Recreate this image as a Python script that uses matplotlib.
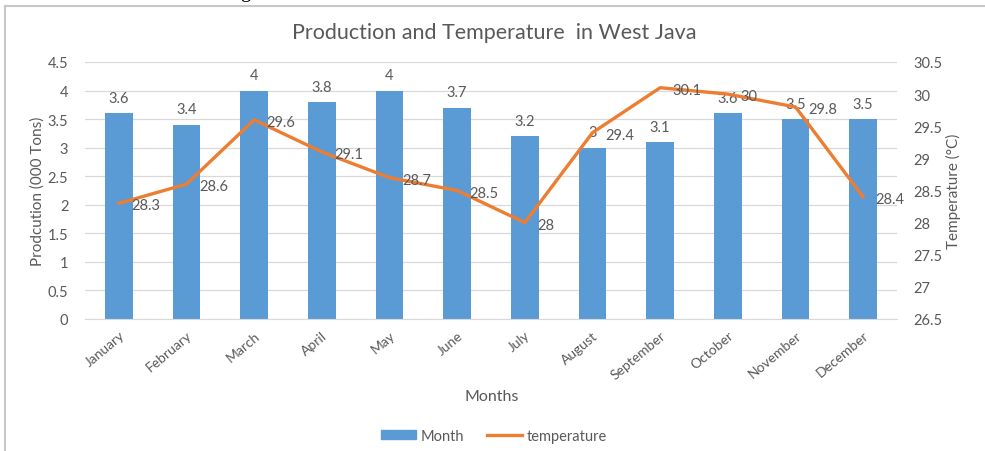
import matplotlib.pyplot as plt
from matplotlib.lines import Line2D
from matplotlib.patches import Patch

months = ['January', 'February', 'March', 'April', 'May', 'June', 'July',
          'August', 'September', 'October', 'November', 'December']
production = [3.6, 3.4, 4, 3.8, 4, 3.7, 3.2, 3, 3.1, 3.6, 3.5, 3.5]
temperature = [28.3, 28.6, 29.6, 29.1, 28.7, 28.5, 28, 29.4, 30.1, 30, 29.8, 28.4]

plt.rcParams['font.family'] = ['Lato', 'DejaVu Sans']
GREY = '#595959'
BLUE = '#5B9BD5'
ORANGE = '#ED7D31'

fig = plt.figure(figsize=(9.85, 4.52), dpi=100)
ax = fig.add_axes([85 / 985, 1 - 320 / 452, 812 / 985, 257 / 452])
ax2 = ax.twinx()

x = list(range(len(months)))
ax.bar(x, production, width=0.41, color=BLUE, zorder=2)
ax.set_xlim(-0.5, 11.5)
ax.set_ylim(0, 4.5)
ax.set_yticks([i * 0.5 for i in range(10)])
ax.set_yticklabels(['0', '0.5', '1', '1.5', '2', '2.5', '3', '3.5', '4', '4.5'])
ax.grid(axis='y', color='#d9d9d9', linewidth=0.9, zorder=0)
ax.set_axisbelow(True)
for xi, v in zip(x, production):
    ax.annotate(f'{v:g}', (xi, v), xytext=(0, 6), textcoords='offset points',
                ha='center', va='bottom', color=GREY, fontsize=10.5)

ax2.plot(x, temperature, color=ORANGE, linewidth=2.4, zorder=3)
ax2.set_ylim(26.5, 30.5)
ax2.set_yticks([26.5 + i * 0.5 for i in range(9)])
ax2.set_yticklabels(['26.5', '27', '27.5', '28', '28.5', '29', '29.5', '30', '30.5'])
for xi, t in zip(x, temperature):
    ax2.annotate(f'{t:g}', (xi, t), xytext=(9, -1.5), textcoords='offset points',
                 ha='left', va='center', color=GREY, fontsize=10.5)

for a in (ax, ax2):
    for s in a.spines.values():
        s.set_visible(False)
    a.tick_params(length=0, colors=GREY, labelsize=10.5)
ax.spines['bottom'].set_visible(True)
ax.spines['bottom'].set_color('#d9d9d9')
ax.tick_params(axis='y', pad=12)
ax2.tick_params(axis='y', pad=12)

ax.set_xticks(x)
ax.set_xticklabels(months, rotation=40, ha='right', rotation_mode='anchor')
ax.tick_params(axis='x', pad=7, labelsize=10)

ax.set_ylabel('Prodcution (000 Tons)', color=GREY, fontsize=11, labelpad=2)
ax2.set_ylabel('Temperature (°C)', color=GREY, fontsize=11, labelpad=2)
fig.text(492 / 985, 1 - 397 / 452, 'Months', ha='center', va='center',
         color=GREY, fontsize=11.5)
fig.text(494 / 985, 1 - 33 / 452, 'Production and Temperature  in West Java',
         ha='center', va='center', color=GREY, fontsize=15.5)

handles = [Patch(color=BLUE), Line2D([0], [0], color=ORANGE, linewidth=2.4)]
fig.legend(handles, ['Month', 'temperature'], loc='center',
           bbox_to_anchor=(494 / 985, 1 - 437 / 452), ncol=2, frameon=False,
           fontsize=10.5, labelcolor=GREY, handlelength=2.4, handleheight=0.6,
           columnspacing=1.6, handletextpad=0.3)

# outer chart frame (left and top edges only)
fig.add_artist(Line2D([4.5 / 985, 4.5 / 985], [0, 1 - 7 / 452],
                      color='#c8c8c8', linewidth=1.5))
fig.add_artist(Line2D([4.5 / 985, 1], [1 - 7 / 452, 1 - 7 / 452],
                      color='#c8c8c8', linewidth=1.5))
fig.text(245 / 985, 1 + 3 / 452, 'g', ha='center', va='baseline',
         family='Liberation Serif', fontsize=15, color='black')

fig.savefig('out.png', dpi=100)
